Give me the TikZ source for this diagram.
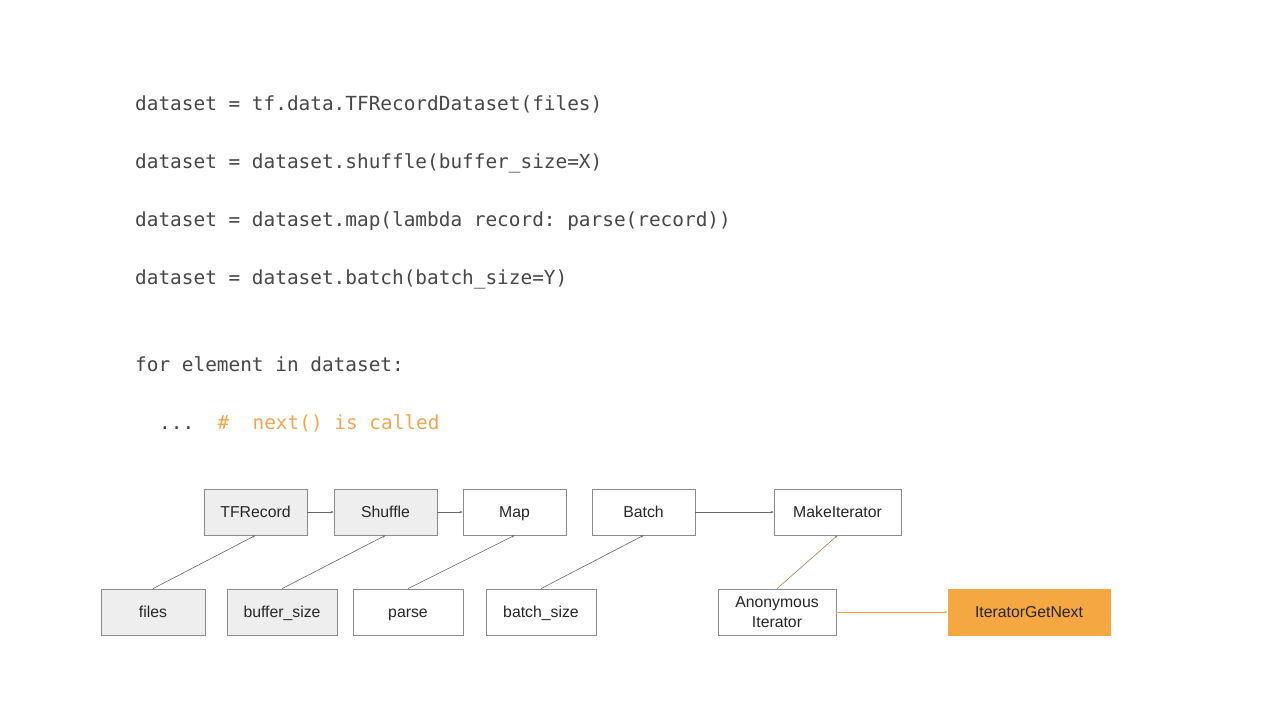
\documentclass[tikz,border=0pt]{standalone}
\usepackage{fontspec}
\setmainfont{Liberation Sans}
\setmonofont{DejaVu Sans Mono}
\usetikzlibrary{positioning,arrows.meta}

\definecolor{codegray}{HTML}{474747}
\definecolor{codeorange}{HTML}{EFA850}
\definecolor{boxgray}{HTML}{EEEEEE}
\definecolor{edgegray}{HTML}{8C8C8C}
\definecolor{iterorange}{HTML}{F5A741}
\definecolor{linkbrown}{HTML}{B07A4A}

\tikzset{
	codeline/.style={anchor=base west, inner sep=0pt, text=codegray, font=\ttfamily\fontsize{19.4}{22}\selectfont},
	opbox/.style={draw=edgegray, line width=0.7pt, minimum height=46pt, inner sep=0pt, align=center, text=black!85, font=\fontsize{15.8}{20}\selectfont, text height=11.4pt, text depth=0pt},
	twoline/.style={text height={}, text depth={}},
	link/.style={draw=black!60, line width=0.6pt, -{Stealth[length=3pt, width=2.2pt]}}
}

\begin{document}
\begin{tikzpicture}[x=1pt, y=-1pt]
	\useasboundingbox[fill=white] (0, 0) rectangle (1280, 720);

	% Code:
	\node[codeline] (l1) at (135, 110) {dataset = tf.data.TFRecordDataset(files)};
	\node[codeline] (l2) at (135, 168) {dataset = dataset.shuffle(buffer\_size=X)};
	\node[codeline] (l3) at (135, 226) {dataset = dataset.map(lambda record: parse(record))};
	\node[codeline] (l4) at (135, 284) {dataset = dataset.batch(batch\_size=Y)};
	\node[codeline] (l5) at (135, 371) {for element in dataset:};
	\node[codeline] (l6) at (159, 429) {...\ \ \textcolor{codeorange}{\#\ \ next() is called}};

	% Ops:
	\node[opbox, fill=boxgray, minimum width=103pt] (tfrecord) at (255.5, 512) {TFRecord};
	\node[opbox, fill=boxgray, minimum width=103pt] (shuffle) at (385.5, 512) {Shuffle};
	\node[opbox, minimum width=103pt] (map) at (514.5, 512) {Map};
	\node[opbox, minimum width=103pt] (batch) at (643.5, 512) {Batch};
	\node[opbox, minimum width=127pt] (makeiter) at (837.5, 512) {MakeIterator};

	% Inputs:
	\node[opbox, fill=boxgray, minimum width=104pt] (files) at (153, 612) {files};
	\node[opbox, fill=boxgray, minimum width=110pt] (buffersize) at (282, 612) {buffer\_size};
	\node[opbox, minimum width=110pt] (parse) at (408, 612) {parse};
	\node[opbox, minimum width=110pt] (batchsize) at (541, 612) {batch\_size};
	\node[opbox, twoline, minimum width=118pt] (anoniter) at (777, 612) {Anonymous\\Iterator};
	\node[opbox, draw=iterorange, fill=iterorange, minimum width=162pt] (getnext) at (1029, 612) {IteratorGetNext};

	% Edges:
	\draw[link] (tfrecord) -- (shuffle);
	\draw[link] (shuffle) -- (map);
	\draw[link] (batch) -- (makeiter);
	\draw[link] (files.north) -- (tfrecord.south);
	\draw[link] (buffersize.north) -- (shuffle.south);
	\draw[link] (parse.north) -- (map.south);
	\draw[link] (batchsize.north) -- (batch.south);
	\draw[link, draw=linkbrown] (anoniter.north) -- (makeiter.south);
	\draw[link, draw=iterorange] (anoniter) -- (getnext);

\end{tikzpicture}
\end{document}
